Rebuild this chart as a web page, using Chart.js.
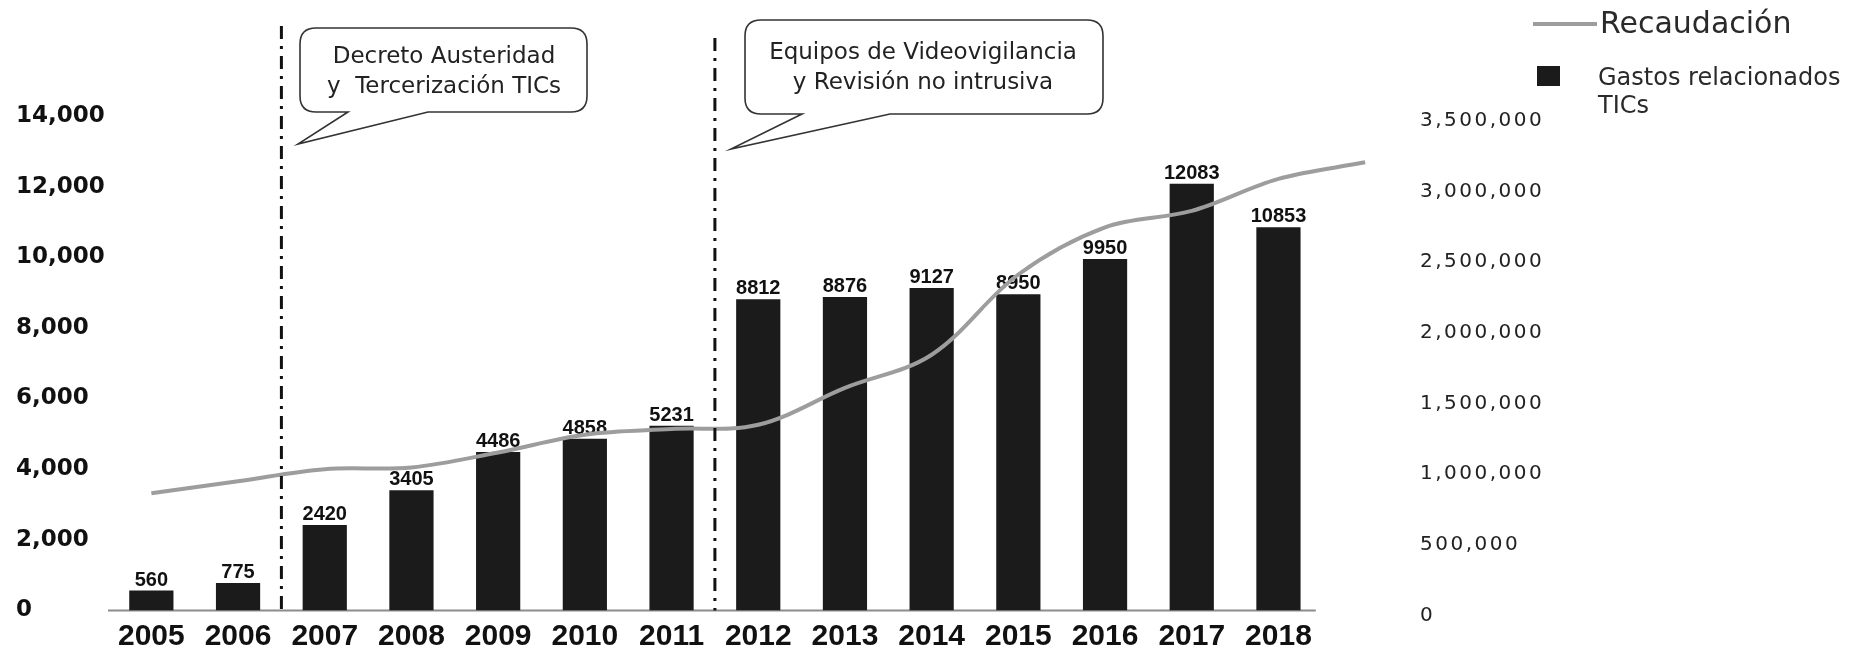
<!DOCTYPE html>
<html>
<head>
<meta charset="utf-8">
<script src="https://cdn.jsdelivr.net/npm/chart.js@4.4.1/dist/chart.umd.min.js"></script>
<style>
html,body{margin:0;padding:0;background:#fff;overflow:hidden}
#wrap{width:1855px;height:651px;position:relative;background:#fff}
canvas{display:block}
</style>
</head>
<body>
<div id="wrap"><canvas id="c" width="1855" height="651"></canvas></div>
<script>
// ---------- data ----------
const years = ['2005','2006','2007','2008','2009','2010','2011','2012','2013','2014','2015','2016','2017','2018'];
const gastosTIC = [560, 775, 2420, 3405, 4486, 4858, 5231, 8812, 8876, 9127, 8950, 9950, 12083, 10853];
// Recaudación: 14 years + one extra point that the source line runs on to, past 2018
const recaudacion = [829000, 915000, 1000000, 1012000, 1118000, 1244000, 1284000, 1314000, 1575000, 1810000, 2378000, 2712000, 2828000, 3055000, 3172000];
const leftTickLabels = ['0','2,000','4,000','6,000','8,000','10,000','12,000','14,000'];
const rightTickLabels = ['0','500,000','1,000,000','1,500,000','2,000,000','2,500,000','3,000,000','3,500,000'];
const seriesNames = ['Gastos relacionados TICs', 'Recaudación'];
const legendTextLines = [['Recaudación'], ['Gastos relacionados', 'TICs']];
const calloutTexts = [['Decreto Austeridad', 'y  Tercerización TICs'], ['Equipos de Videovigilancia', 'y Revisión no intrusiva']];
const calloutAfterIndex = [1, 6]; // dashed divider sits between this year and the next

// category slots: the 14 years plus one unlabeled slot that only the line reaches
const axisLabels = years.concat(['']);

// ---------- styles ----------
const BAR_COLOR = '#1b1b1b';
const LINE_COLOR = '#9d9d9d';

function roundedCallout(ctx, x0, y0, x1, y1, r, tailL, tailR, tipX, tipY) {
  ctx.beginPath();
  ctx.moveTo(x0 + r, y0);
  ctx.lineTo(x1 - r, y0);
  ctx.quadraticCurveTo(x1, y0, x1, y0 + r);
  ctx.lineTo(x1, y1 - r);
  ctx.quadraticCurveTo(x1, y1, x1 - r, y1);
  ctx.lineTo(tailR, y1);
  ctx.lineTo(tipX, tipY);
  ctx.lineTo(tailL, y1);
  ctx.lineTo(x0 + r, y1);
  ctx.quadraticCurveTo(x0, y1, x0, y1 - r);
  ctx.lineTo(x0, y0 + r);
  ctx.quadraticCurveTo(x0, y0, x0 + r, y0);
  ctx.closePath();
}

const decorPlugin = {
  id: 'decor',
  beforeDatasetsDraw(chart) {
    // x baseline across the 14 year slots only
    const xs = chart.scales.x, ys = chart.scales.y;
    const last = years.length - 1;
    const half = (xs.getPixelForValue(1) - xs.getPixelForValue(0)) / 2;
    const ctx = chart.ctx;
    ctx.save();
    ctx.strokeStyle = '#8c8c8c';
    ctx.lineWidth = 2;
    ctx.beginPath();
    ctx.moveTo(chart.chartArea.left, ys.getPixelForValue(0));
    ctx.lineTo(xs.getPixelForValue(last) + half - 6, ys.getPixelForValue(0));
    ctx.stroke();
    ctx.restore();
  },
  afterDatasetDraw(chart, args) {
    if (args.index !== 0) return;
    const ctx = chart.ctx;
    const meta = chart.getDatasetMeta(0);
    ctx.save();
    ctx.font = 'bold 20px "Liberation Sans", Arial, sans-serif';
    ctx.fillStyle = '#111';
    ctx.textAlign = 'center';
    ctx.textBaseline = 'alphabetic';
    meta.data.forEach((bar, i) => {
      if (gastosTIC[i] == null) return;
      ctx.fillText(String(gastosTIC[i]), bar.x, bar.y - 5);
    });
    ctx.restore();
  },
  afterDatasetsDraw(chart) {
    // wide letter spacing for the right-axis labels (drawn after datasets, z>0)
    try { chart.ctx.letterSpacing = '2.5px'; } catch (e) {}
  },
  afterDraw(chart) {
    const ctx = chart.ctx;
    try { ctx.letterSpacing = '0px'; } catch (e) {}
    const xs = chart.scales.x;
    const area = chart.chartArea;

    // dash-dot dividers
    const tops = [26, 38];
    calloutAfterIndex.forEach((idx, k) => {
      const px = (xs.getPixelForValue(idx) + xs.getPixelForValue(idx + 1)) / 2;
      ctx.save();
      ctx.strokeStyle = '#111';
      ctx.lineWidth = 3;
      ctx.setLineDash([13, 7, 3, 7]);
      ctx.beginPath();
      ctx.moveTo(px, tops[k]);
      ctx.lineTo(px, area.bottom);
      ctx.stroke();
      ctx.restore();
    });

    // callouts
    const boxes = [
      {x0: 300, y0: 28, x1: 587, y1: 112, tl: 348, tr: 428, tx: 298, ty: 144, cx: 444, ly: [57, 87]},
      {x0: 745, y0: 20, x1: 1103, y1: 114, tl: 802, tr: 890, tx: 731, ty: 149, cx: 923, ly: [53, 83]}
    ];
    boxes.forEach((b, k) => {
      ctx.save();
      roundedCallout(ctx, b.x0, b.y0, b.x1, b.y1, 16, b.tl, b.tr, b.tx, b.ty);
      ctx.fillStyle = '#fff';
      ctx.fill();
      ctx.strokeStyle = '#333';
      ctx.lineWidth = 1.6;
      ctx.stroke();
      ctx.fillStyle = '#222';
      ctx.font = '23px "DejaVu Sans", sans-serif';
      ctx.textAlign = 'center';
      ctx.textBaseline = 'middle';
      calloutTexts[k].forEach((t, j) => ctx.fillText(t, b.cx, b.ly[j]));
      ctx.restore();
    });

    // legend
    ctx.save();
    ctx.strokeStyle = LINE_COLOR;
    ctx.lineWidth = 4;
    ctx.beginPath();
    ctx.moveTo(1533, 24);
    ctx.lineTo(1597, 24);
    ctx.stroke();
    ctx.fillStyle = '#2a2a2a';
    ctx.textAlign = 'left';
    ctx.textBaseline = 'middle';
    ctx.font = '30px "DejaVu Sans", sans-serif';
    ctx.fillText(legendTextLines[0][0], 1600, 25);
    ctx.fillStyle = BAR_COLOR;
    ctx.fillRect(1537, 66, 23, 20);
    ctx.fillStyle = '#2a2a2a';
    ctx.font = '24px "DejaVu Sans", sans-serif';
    ctx.fillText(legendTextLines[1][0], 1598, 79);
    ctx.fillText(legendTextLines[1][1], 1598, 107);
    ctx.restore();
  }
};

const CHART_RIGHT = 1408.5;

const ctx = document.getElementById('c').getContext('2d');
new Chart(ctx, {
  type: 'bar',
  data: {
    labels: axisLabels,
    datasets: [
      {
        type: 'bar',
        label: seriesNames[0],
        data: gastosTIC,
        backgroundColor: BAR_COLOR,
        borderWidth: 0,
        grouped: false,
        categoryPercentage: 0.51,
        barPercentage: 1,
        yAxisID: 'y',
        order: 2
      },
      {
        type: 'line',
        label: seriesNames[1],
        data: recaudacion,
        yAxisID: 'y2',
        borderColor: LINE_COLOR,
        borderWidth: 4,
        pointRadius: 0,
        tension: 0.35,
        fill: false,
        clip: false,
        order: 1
      }
    ]
  },
  options: {
    responsive: false,
    animation: false,
    devicePixelRatio: 1,
    layout: {padding: {left: 16, top: 116, right: 0, bottom: 0}},
    plugins: {legend: {display: false}, tooltip: {enabled: false}},
    scales: {
      x: {
        type: 'category',
        position: 'bottom',
        offset: true,
        grid: {display: false, drawTicks: false, tickLength: 0},
        border: {display: false},
        ticks: {
          font: {family: '"Liberation Sans Narrow", "Liberation Sans", Arial, sans-serif', size: 30, weight: 'bold', lineHeight: 1},
          color: '#111', padding: 11, maxRotation: 0, autoSkip: false
        },
        afterFit(s) { s.height = 40.6; s.paddingLeft = 0; s.paddingRight = 0; }
      },
      y: {
        position: 'left',
        min: 0, max: 14000,
        grid: {display: false, drawTicks: false, tickLength: 0},
        border: {display: false},
        ticks: {
          stepSize: 2000,
          callback: (v, i) => leftTickLabels[i],
          crossAlign: 'far',
          font: {family: '"DejaVu Sans", sans-serif', size: 23, weight: 'bold'},
          color: '#111'
        },
        afterFit(s) { s.width = 92; s.paddingTop = 0; s.paddingBottom = 0; }
      },
      y2: {
        position: 'right',
        min: 0, max: 3500000,
        grid: {display: false, drawTicks: false, tickLength: 0},
        border: {display: false},
        ticks: {
          stepSize: 500000,
          callback: (v, i) => rightTickLabels[i],
          padding: 11.5,
          labelOffset: 5,
          z: 1,
          font: {family: '"DejaVu Sans", sans-serif', size: 20},
          color: '#222'
        },
        afterFit(s) { s.width = 1855 - CHART_RIGHT; s.paddingTop = 0; s.paddingBottom = 0; }
      }
    }
  },
  plugins: [decorPlugin]
});
</script>
</body>
</html>
